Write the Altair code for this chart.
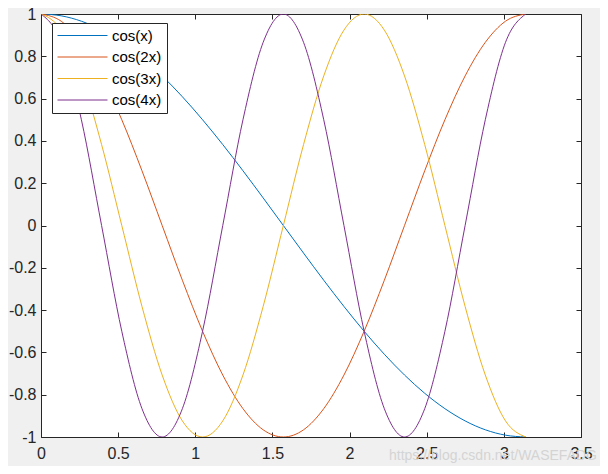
import altair as alt
import pandas as pd

# x sampled at k*pi/24, k = 0..24
x_vals = [0.0, 0.1309, 0.2618, 0.3927, 0.5236, 0.6545, 0.7854, 0.9163, 1.0472,
          1.1781, 1.3090, 1.4399, 1.5708, 1.7017, 1.8326, 1.9635, 2.0944, 2.2253,
          2.3562, 2.4871, 2.6180, 2.7489, 2.8798, 3.0107, 3.1416]
cos1 = [1.0, 0.9914, 0.9659, 0.9239, 0.8660, 0.7934, 0.7071, 0.6088, 0.5,
        0.3827, 0.2588, 0.1305, 0.0, -0.1305, -0.2588, -0.3827, -0.5, -0.6088,
        -0.7071, -0.7934, -0.8660, -0.9239, -0.9659, -0.9914, -1.0]
cos2 = [1.0, 0.9659, 0.8660, 0.7071, 0.5, 0.2588, 0.0, -0.2588, -0.5,
        -0.7071, -0.8660, -0.9659, -1.0, -0.9659, -0.8660, -0.7071, -0.5, -0.2588,
        0.0, 0.2588, 0.5, 0.7071, 0.8660, 0.9659, 1.0]
cos3 = [1.0, 0.9239, 0.7071, 0.3827, 0.0, -0.3827, -0.7071, -0.9239, -1.0,
        -0.9239, -0.7071, -0.3827, 0.0, 0.3827, 0.7071, 0.9239, 1.0, 0.9239,
        0.7071, 0.3827, 0.0, -0.3827, -0.7071, -0.9239, -1.0]
cos4 = [1.0, 0.8660, 0.5, 0.0, -0.5, -0.8660, -1.0, -0.8660, -0.5,
        0.0, 0.5, 0.8660, 1.0, 0.8660, 0.5, 0.0, -0.5, -0.8660,
        -1.0, -0.8660, -0.5, 0.0, 0.5, 0.8660, 1.0]

series_names = ["cos(x)", "cos(2x)", "cos(3x)", "cos(4x)"]
series_colors = ["#0072BD", "#D95319", "#EDB120", "#7E2F8E"]
x_ticks = [0, 0.5, 1, 1.5, 2, 2.5, 3, 3.5]
y_ticks = [-1, -0.8, -0.6, -0.4, -0.2, 0, 0.2, 0.4, 0.6, 0.8, 1]
watermark = "https://blog.csdn.net/WASEFADG"

rows = []
for name, vals in zip(series_names, [cos1, cos2, cos3, cos4]):
    for xv, yv in zip(x_vals, vals):
        rows.append({"x": xv, "y": yv, "series": name})
df = pd.DataFrame(rows)

FONT = "Liberation Sans"
TXT = "#262626"
xscale = alt.Scale(domain=[0, 3.5], nice=False, zero=False)
yscale = alt.Scale(domain=[-1, 1], nice=False, zero=False)


def mk_axis(orient, labels=True, pad=8):
    kw = dict(
        orient=orient, values=x_ticks if orient in ("bottom", "top") else y_ticks,
        title=None, offset=-5, domain=False, grid=False, ticks=True, tickSize=5,
        tickColor=TXT, tickWidth=1, labels=labels,
    )
    if labels:
        kw.update(labelPadding=pad, labelFontSize=16, labelColor=TXT, labelFont=FONT,
                  labelFlush=False, labelOverlap=False, labelExpr="'' + datum.value")
    return alt.Axis(**kw)


lines = alt.Chart(df).mark_line(strokeWidth=1, interpolate="monotone", clip=True).encode(
    x=alt.X("x:Q", scale=xscale, axis=mk_axis("bottom", pad=8)),
    y=alt.Y("y:Q", scale=yscale, axis=mk_axis("left", pad=5)),
    color=alt.Color(
        "series:N",
        scale=alt.Scale(domain=series_names, range=series_colors),
        legend=alt.Legend(
            title=None, orient="none", legendX=11, legendY=9,
            symbolType="stroke", symbolSize=2500, symbolStrokeWidth=1,
            clipHeight=15,
            labelFontSize=15, labelFont=FONT, labelColor="black",
            strokeColor=TXT, fillColor="white", padding=5, rowPadding=5.5,
            labelOffset=4,
        ),
    ),
    detail="series:N",
)

frame = alt.Chart(df).mark_line(opacity=0).encode(
    x=alt.X("x:Q", scale=xscale, axis=mk_axis("top", labels=False)),
    y=alt.Y("y:Q", scale=yscale, axis=mk_axis("right", labels=False)),
    detail="series:N",
)

chart = alt.layer(lines, frame).resolve_axis(
    x="independent", y="independent"
).properties(
    width=540, height=423,
    background="#f0f0f0",
    autosize=alt.AutoSizeParams(type="none"),
    padding={"left": 33, "top": 6, "right": 19, "bottom": 29},
    title=alt.TitleParams(
        text=watermark, orient="bottom", anchor="end", frame="group",
        fontSize=14, font=FONT, fontWeight="normal", color="#d4d4d4",
        offset=-12, dx=16,
    ),
).configure_view(fill="white", stroke=TXT, strokeWidth=1)

chart.save("out.html", embed_options={"renderer": "svg", "actions": False})
